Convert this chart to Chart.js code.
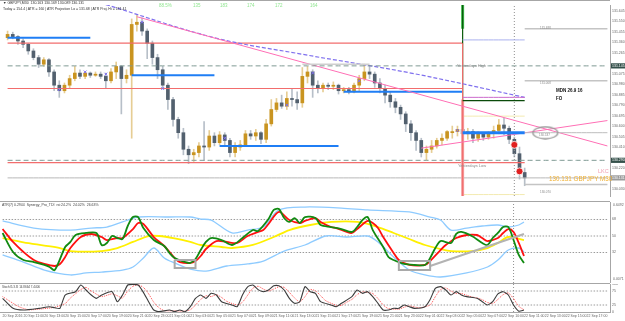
<!DOCTYPE html>
<html>
<head>
<meta charset="utf-8">
<title>GBPJPY M30</title>
<script src="https://cdn.jsdelivr.net/npm/chart.js@4.4.1/dist/chart.umd.min.js"></script>
<style>
  html, body { margin: 0; padding: 0; background: #fff; }
  #wrap { position: relative; width: 625px; height: 321px; overflow: hidden; background: #fff; }
  .pane { position: absolute; left: 0; width: 625px; }
  .sep { position: absolute; left: 0; width: 610px; height: 1px; background: #a6a6a6; }
  .t { position: absolute; white-space: nowrap; line-height: 1; transform-origin: 0 0; transform: scale(0.5);
       font-family: "Liberation Sans", Arial, sans-serif; color: #555; }
</style>
</head>
<body>
<div id="wrap">
  <div class="pane" style="top:0;height:201px"><canvas id="price"></canvas></div>
  <div class="pane" style="top:202px;height:81px"><canvas id="tdi"></canvas></div>
  <div class="pane" style="top:284px;height:37px"><canvas id="stoch"></canvas></div>
  <div class="sep" style="top:0"></div>
  <div class="sep" style="top:201px"></div>
  <div class="sep" style="top:283px"></div>

  <div class="t" style="left:3px;top:1px;font-size:7px;color:#333">&#9660; GBPJPY,M30&nbsp; 130.163 130.169 130.089 130.131</div>
  <div class="t" style="left:3px;top:7px;font-size:7px;color:#333">Today = 154.4 | ATR = 160 | ATR Projection Lo = 131.68 | ATR Proj. Hi = 131.41</div>

  <div class="t" style="left:159px;top:3px;font-size:9px;color:#8fe58f">88.5%</div>
  <div class="t" style="left:193px;top:3px;font-size:9px;color:#8fe58f">135</div>
  <div class="t" style="left:220px;top:3px;font-size:9px;color:#8fe58f">183</div>
  <div class="t" style="left:247px;top:3px;font-size:9px;color:#8fe58f">174</div>
  <div class="t" style="left:275px;top:3px;font-size:9px;color:#8fe58f">172</div>
  <div class="t" style="left:310px;top:3px;font-size:9px;color:#8fe58f">164</div>

  <div class="t" style="left:457px;top:64px;font-size:8px;color:#8a8a8a">Yesterdays High</div>
  <div class="t" style="left:458px;top:164px;font-size:8px;color:#8a8a8a">Yesterdays Low</div>
  <div class="t" style="left:556px;top:88px;font-size:9px;color:#111;font-weight:bold">MDN 26.9 16</div>
  <div class="t" style="left:556px;top:96px;font-size:9px;color:#111;font-weight:bold">FO</div>
  <div class="t" style="left:598px;top:168px;font-size:11px;color:#f2a2b4">LKC</div>
  <div class="t" style="left:549px;top:176px;font-size:12.6px;color:#f0b032">130.131 GBPJPY M30</div>
  <div class="t" style="left:540px;top:26px;font-size:6px;color:#888">131.488</div>
  <div class="t" style="left:540px;top:81px;font-size:6px;color:#888">131.008</div>
  <div class="t" style="left:540px;top:189.5px;font-size:6px;color:#888">130.070</div>
  <div class="t" style="left:539px;top:132.5px;font-size:6px;color:#888">130.537</div>

  <div class="t" style="left:2px;top:203px;font-size:7px;color:#444">ATR(7) 0.2944&nbsp; Synergy_Pro_TDI&nbsp; rsi:24.2%&nbsp; 24.02%&nbsp; 26.63%</div>
  <div class="t" style="left:613px;top:203px;font-size:7px;color:#666">0.6492</div>
  <div class="t" style="left:613px;top:277px;font-size:7px;color:#666">0.0071</div>
  <div class="t" style="left:2px;top:284.5px;font-size:6px;color:#444">Stoch(5,3,3) 14.8664 7.4406</div>
</div>

<script>
/* GBPJPY M30 — MT4 screenshot rebuilt with Chart.js */

Chart.defaults.font.family = "'Liberation Sans', Arial, sans-serif";

// ── categories (101 bars + empty shift area on the right) ──
const N = 117;
const labels = Array.from({ length: N }, (_, i) => String(i));

const timeTicks = ["20 Sep 2016", "20 Sep 11:00", "20 Sep 13:00", "20 Sep 15:00", "20 Sep 17:00",
  "20 Sep 19:00", "20 Sep 21:00", "20 Sep 23:00", "21 Sep 01:00", "21 Sep 03:00", "21 Sep 05:00",
  "21 Sep 07:00", "21 Sep 09:00", "21 Sep 11:00", "21 Sep 13:00", "21 Sep 15:00", "21 Sep 17:00",
  "21 Sep 19:00", "21 Sep 21:00", "21 Sep 23:00", "22 Sep 01:00", "22 Sep 03:00", "22 Sep 05:00",
  "22 Sep 07:00", "22 Sep 10:00", "22 Sep 11:00", "22 Sep 13:00", "22 Sep 15:00", "22 Sep 17:00"];
const CURSOR_TICK = 96;   // time label shown boxed
const CURSOR_BAR = 98;    // dotted crosshair

// ── candles ──
const opens = [131.40, 131.43, 131.41, 131.37, 131.34, 131.28, 131.22, 131.16, 131.20, 131.09,
  130.97, 130.92, 130.97, 131.03, 131.08, 131.05, 131.08, 131.06, 131.07, 131.05,
  131.01, 131.09, 131.14, 131.03, 131.06, 131.52, 131.54, 131.46, 131.35, 131.22,
  131.11, 130.97, 130.84, 130.66, 130.54, 130.39, 130.34, 130.36, 130.42, 130.41,
  130.51, 130.45, 130.52, 130.47, 130.36, 130.41, 130.43, 130.53, 130.51, 130.54,
  130.48, 130.62, 130.75, 130.81, 130.78, 130.85, 130.84, 130.81, 131.05, 131.09,
  130.97, 130.94, 130.97, 130.96, 130.97, 130.92, 130.93, 130.91, 130.97, 131.03,
  131.09, 131.07, 130.99, 130.94, 130.88, 130.82, 130.77, 130.71, 130.62, 130.54,
  130.47, 130.36, 130.39, 130.42, 130.47, 130.49, 130.54, 130.55, 130.57, 130.53,
  130.55, 130.49, 130.53, 130.50, 130.54, 130.56, 130.61, 130.58, 130.48, 130.35,
  130.18];
const highs = [131.46, 131.45, 131.42, 131.39, 131.35, 131.30, 131.24, 131.22, 131.21, 131.11,
  131.01, 130.99, 131.06, 131.14, 131.11, 131.09, 131.09, 131.09, 131.09, 131.08,
  131.12, 131.18, 131.15, 131.11, 131.57, 131.61, 131.58, 131.48, 131.37, 131.25,
  131.14, 130.99, 130.86, 130.68, 130.58, 130.42, 130.39, 130.45, 130.64, 130.56,
  130.54, 130.55, 130.54, 130.49, 130.45, 130.47, 130.56, 130.56, 130.57, 130.55,
  130.66, 130.84, 130.85, 130.88, 130.91, 130.94, 130.91, 131.13, 131.14, 131.11,
  131.01, 130.99, 130.99, 131.00, 130.98, 130.95, 130.95, 130.99, 131.06, 131.16,
  131.15, 131.09, 131.03, 130.97, 130.91, 130.85, 130.79, 130.73, 130.65, 130.56,
  130.49, 130.42, 130.47, 130.49, 130.53, 130.56, 130.60, 130.60, 130.59, 130.58,
  130.57, 130.55, 130.54, 130.55, 130.60, 130.66, 130.67, 130.60, 130.50, 130.41,
  130.22];
const lows = [131.38, 131.39, 131.34, 131.31, 131.25, 131.20, 131.13, 131.14, 131.05, 130.92,
  130.86, 130.90, 130.94, 131.01, 131.03, 131.03, 131.04, 131.05, 131.03, 130.94,
  130.99, 131.03, 130.71, 130.99, 130.49, 131.46, 131.42, 131.21, 131.16, 131.03,
  130.94, 130.75, 130.60, 130.49, 130.34, 130.26, 130.28, 130.32, 130.29, 130.38,
  130.42, 130.43, 130.43, 130.32, 130.32, 130.38, 130.42, 130.48, 130.47, 130.44,
  130.45, 130.60, 130.73, 130.76, 130.75, 130.78, 130.75, 130.77, 130.99, 130.86,
  130.90, 130.91, 130.93, 130.93, 130.89, 130.90, 130.89, 130.90, 130.92, 131.01,
  131.03, 130.95, 130.90, 130.81, 130.77, 130.72, 130.66, 130.55, 130.47, 130.38,
  130.32, 130.29, 130.36, 130.40, 130.43, 130.47, 130.49, 130.51, 130.49, 130.48,
  130.45, 130.46, 130.47, 130.48, 130.49, 130.53, 130.52, 130.44, 130.32, 130.12,
  130.06];
const closes = [131.43, 131.41, 131.37, 131.34, 131.28, 131.22, 131.16, 131.20, 131.09, 130.97,
  130.92, 130.97, 131.03, 131.08, 131.05, 131.08, 131.06, 131.07, 131.05, 131.01,
  131.09, 131.14, 131.03, 131.06, 131.52, 131.54, 131.46, 131.35, 131.22, 131.11,
  130.97, 130.84, 130.66, 130.54, 130.39, 130.34, 130.36, 130.42, 130.41, 130.51,
  130.45, 130.52, 130.47, 130.36, 130.41, 130.43, 130.53, 130.51, 130.54, 130.48,
  130.62, 130.75, 130.81, 130.78, 130.85, 130.84, 130.81, 131.05, 131.09, 130.97,
  130.94, 130.97, 130.96, 130.97, 130.92, 130.93, 130.91, 130.97, 131.03, 131.09,
  131.07, 130.99, 130.94, 130.88, 130.82, 130.77, 130.71, 130.62, 130.54, 130.47,
  130.36, 130.39, 130.42, 130.47, 130.49, 130.55, 130.55, 130.57, 130.53, 130.55,
  130.49, 130.53, 130.50, 130.54, 130.56, 130.61, 130.58, 130.48, 130.35, 130.18,
  130.131];

// ── price axis ──
const PRICE_MIN = 129.967, PRICE_MAX = 131.696;
const priceTicks = [131.645, 131.550, 131.455, 131.360, 131.265, 131.075, 130.980, 130.885,
  130.790, 130.695, 130.600, 130.505, 130.410, 130.220, 130.030];
const boxedDark = [131.145, 130.290];
const boxedGrey = [130.131];

// ── drawn levels on the price window ──
const redLevels = [131.35, 130.94, 130.27];
const redFrom = [0, 0, 0], redTo = [88, 88, 100];
const yesterdayHigh = 131.145, yesterdayLow = 130.29;
const blueLevels = [131.40, 131.06, 130.42, 130.91];
const blueFrom = [0, 24, 41, 65], blueTo = [16, 40, 64, 88];
const boxLevel = 130.54;
const lavenderLevel = 131.38, violetLevel = 130.86, darkGreenLevel = 130.83;
const paleLevels = [130.69, 129.98];
const bidPrice = 130.131;
const rightLevels = [131.48, 131.01, 130.07];
const greyTop = 131.16;

const trendABars = [25, 116], trendAVals = [131.59, 130.42];
const trendBBars = [80, 116], trendBVals = [130.40, 130.65];
const maBars = [19, 40, 57, 78, 100], maVals = [131.70, 131.40, 131.25, 131.08, 130.86];

const markerBars = [10, 15, 19, 26, 30, 42, 54, 59, 68, 87];
const markerVals = [130.93, 131.09, 131.07, 131.54, 130.94, 130.49, 130.79, 131.08, 131.01, 130.56];
const ballBars = [98, 99], ballVals = [130.43, 130.19];
const ringBar = 104, ringVal = 130.54;

// ── TDI window ──
const TDI_MIN = -1.25, TDI_MAX = 87.08;
const tdiTicks = [32, 50, 68];
const tdiGreenBars = [0, 2, 4, 6, 8, 9, 10, 12, 13, 14, 16, 18, 19, 20, 21, 22, 23, 24, 25, 26, 27, 29, 31, 32, 33, 35, 36, 37,
  38, 39, 40, 42, 44, 46, 48, 49, 51, 52, 53, 54, 55, 56, 57, 58, 60, 61, 63, 65, 67, 68, 69, 70, 71, 73, 74, 75,
  77, 79, 81, 82, 83, 84, 86, 87, 88, 90, 92, 93, 94, 95, 96, 97, 98, 99, 100];
const tdiGreen = [53.3, 32.6, 23.8, 21.6, 18.4, 16.2, 12.9, 38.0, 43.5, 51.1, 53.3, 53.3, 40.2, 42.4, 50.0, 47.8, 46.7,
  60.9, 70.7, 70.7, 58.7, 45.6, 39.1, 31.5, 26.0, 21.6, 20.6, 24.9, 34.7, 43.5, 47.8, 45.6, 40.2, 47.8, 56.5, 55.5,
  68.5, 78.4, 79.4, 69.6, 65.3, 69.6, 64.2, 70.7, 69.6, 62.0, 59.8, 57.6, 54.4, 59.8, 67.4, 70.7, 56.5, 38.0, 27.1,
  23.8, 19.5, 18.4, 18.4, 26.0, 36.9, 44.5, 42.4, 52.2, 54.4, 50.0, 42.4, 40.2, 47.8, 53.3, 59.8, 59.8, 45.6, 29.3, 20.6];
const tdiRedBars = [0, 2, 4, 6, 8, 10, 11, 12, 13, 15, 17, 19, 20, 22, 23, 25, 26, 27, 29, 31, 33, 34, 36, 37, 38, 39, 41, 43,
  45, 47, 49, 50, 51, 53, 55, 57, 58, 60, 61, 63, 64, 66, 67, 68, 70, 71, 72, 73, 75, 76, 78, 81, 82, 84, 85, 87,
  89, 91, 92, 93, 95, 96, 97, 98, 99, 100];
const tdiRed = [57.6, 43.5, 32.6, 23.8, 19.5, 17.3, 19.5, 27.1, 36.9, 48.9, 52.2, 48.9, 45.6, 47.8, 47.8, 57.6, 64.2,
  63.1, 48.9, 39.1, 26.0, 21.6, 20.6, 22.7, 28.2, 35.8, 44.5, 43.5, 42.4, 50.0, 54.4, 56.5, 63.1, 76.2, 67.4, 64.2,
  66.4, 69.6, 65.3, 59.8, 58.7, 54.4, 53.3, 57.6, 66.4, 64.2, 58.7, 48.9, 31.5, 23.8, 18.4, 18.4, 22.7, 34.7, 40.2,
  47.8, 51.1, 51.1, 47.8, 44.5, 47.8, 53.3, 57.6, 54.4, 42.4, 28.2];
const tdiBaseBars = [0, 4, 8, 11, 13, 19, 22, 25, 28, 30, 33, 36, 38, 42, 44, 48, 52, 55, 59, 63, 68, 72, 75, 78, 81, 84,
  86, 90, 93, 95, 97, 100];
const tdiBase = [47.8, 43.0, 39.6, 36.9, 33.6, 33.6, 36.9, 43.5, 50.0, 50.0, 47.3, 43.5, 40.2, 38.0, 36.9, 40.2, 48.9,
  56.5, 62.0, 65.3, 65.3, 59.8, 53.3, 46.7, 40.2, 35.8, 33.6, 33.6, 36.9, 42.4, 48.9, 45.6];
const tdiUpBars = [0, 6, 13, 17, 20, 23, 26, 32, 36, 38, 40, 44, 47, 50, 53, 58, 65, 70, 78, 82, 84, 86, 89, 92, 95, 97, 99, 100];
const tdiUp = [66.4, 58.7, 56.5, 58.7, 59.8, 65.3, 70.7, 70.7, 70.7, 68.5, 67.4, 53.3, 56.5, 59.8, 78.4, 81.6, 80.5,
  78.4, 76.2, 70.7, 67.4, 56.5, 58.7, 60.9, 62.0, 59.8, 62.0, 65.3];
const tdiLoBars = [0, 4, 8, 13, 16, 19, 23, 25, 27, 29, 31, 33, 36, 39, 43, 47, 50, 54, 58, 62, 66, 70, 72, 75, 78, 81,
  84, 89, 93, 95, 97, 99, 100];
const tdiLo = [29.3, 21.6, 12.9, 7.5, 9.7, 10.7, 12.9, 16.2, 26.0, 36.9, 26.0, 20.6, 14.0, 11.8, 17.3, 19.5, 22.7,
  33.6, 40.2, 50.0, 48.9, 50.0, 43.5, 27.1, 12.9, 7.5, 5.3, 9.7, 16.2, 23.8, 34.7, 36.9, 32.6];
const boxA = { from: 33, to: 37, top: 23.8, bottom: 15.1 };
const boxB = { from: 76, to: 82, top: 22.7, bottom: 12.9 };
const tdiTrendBars = [82, 100], tdiTrendVals = [17.3, 52.2];

// ── Stochastic window ──
const stochTicks = [0, 25, 75, 100];
const stochBars = [0, 2, 4, 7, 9, 10, 11, 12, 14, 15, 16, 17, 18, 19, 21, 22, 23, 24, 25, 26, 27, 28, 29, 30, 32, 33, 34,
  35, 36, 37, 38, 39, 40, 41, 42, 44, 45, 46, 47, 48, 49, 50, 51, 52, 53, 54, 55, 56, 57, 58, 59, 60, 61, 63, 64,
  65, 67, 68, 69, 70, 71, 72, 73, 74, 75, 76, 77, 78, 79, 81, 82, 83, 84, 85, 86, 87, 88, 89, 91, 92, 93, 94, 95,
  96, 97, 98, 99, 100];
const stochMain = [48.8, 13.1, 7.1, 13.1, 19.0, 15.0, 13.1, 60.7, 72.6, 96.4, 78.6, 60.7, 48.8, 60.7, 72.6, 36.9,
  60.7, 96.4, 98.8, 96.4, 70.0, 36.9, 7.1, 1.2, 7.1, 1.2, 7.1, 1.2, 19.0, 48.8, 60.7, 48.8, 66.7, 60.7, 36.9, 25.0,
  19.0, 60.7, 90.0, 96.4, 80.0, 72.6, 78.6, 94.0, 94.0, 78.6, 48.8, 31.0, 36.9, 90.5, 72.6, 66.7, 36.9, 25.0, 19.0,
  31.0, 54.8, 78.6, 66.7, 72.6, 54.8, 31.0, 7.1, 7.1, 13.1, 13.1, 25.0, 19.0, 13.1, 19.0, 45.0, 84.5, 90.5, 78.6,
  60.7, 72.6, 60.7, 54.8, 48.8, 36.9, 25.0, 36.9, 65.0, 72.6, 60.7, 25.0, 3.0, 7.1];
const sigBars = [0, 3, 5, 8, 10, 12, 13, 15, 16, 17, 19, 21, 22, 23, 24, 25, 26, 27, 28, 29, 30, 31, 33, 35, 36, 37, 38,
  39, 40, 41, 42, 43, 45, 46, 47, 48, 49, 50, 51, 52, 53, 54, 55, 56, 57, 58, 59, 60, 61, 62, 64, 65, 66, 67, 68,
  69, 70, 71, 72, 73, 74, 76, 77, 78, 79, 80, 82, 83, 84, 85, 86, 87, 88, 89, 90, 91, 92, 93, 94, 95, 96, 97, 98,
  99, 100];
const stochSignal = [55, 20, 8, 12, 17, 30, 50, 80, 88, 75, 55, 65, 58, 50, 75, 92, 97, 88, 65, 35, 15, 5, 4, 3, 8, 25,
  45, 58, 55, 62, 52, 38, 25, 35, 60, 85, 92, 82, 75, 82, 90, 88, 70, 50, 36, 55, 80, 76, 58, 40, 24, 24, 35, 45, 62,
  72, 70, 66, 48, 25, 12, 10, 17, 22, 18, 15, 25, 55, 80, 86, 75, 66, 66, 60, 54, 50, 44, 34, 30, 45, 62, 68, 48, 20, 8];

// ── helpers ──────────────────────────────────────────────

function seg(v, a, b) {
  const d = new Array(N).fill(null);
  for (let i = a; i <= b; i++) d[i] = v;
  return d;
}
function pts(bars, vals) {
  const d = new Array(N).fill(null);
  bars.forEach((b, k) => { d[b] = vals[k]; });
  return d;
}
function vline(bar, lo, hi) {
  return [{ x: String(bar), y: lo }, { x: String(bar), y: hi }];
}
function rect(b) {
  return [{ x: String(b.from), y: b.top }, { x: String(b.to), y: b.top }, { x: String(b.to), y: b.bottom },
    { x: String(b.from), y: b.bottom }, { x: String(b.from), y: b.top }];
}
function line(data, color, width, extra) {
  return Object.assign({
    type: "line", data, borderColor: color, borderWidth: width, pointRadius: 0,
    fill: false, tension: 0, spanGaps: false, order: 5,
  }, extra || {});
}
function rightAxis(min, max, tickValues, ticksExtra) {
  return {
    position: "right", min, max,
    grid: { display: false, drawTicks: false },
    border: { display: true, color: "#a6a6a6" },
    afterBuildTicks: (s) => { s.ticks = tickValues.slice().sort((a, b) => a - b).map((v) => ({ value: v })); },
    afterFit: (s) => { s.width = 15; s.paddingTop = 0; s.paddingBottom = 0; },
    ticks: Object.assign({ padding: 2, autoSkip: false, font: { size: 3.5 }, color: "#666" }, ticksExtra || {}),
  };
}
const baseOptions = {
  animation: false, responsive: true, maintainAspectRatio: false, events: [],
  layout: { padding: 0 },
  plugins: { legend: { display: false }, tooltip: { enabled: false } },
};
const hiddenX = { type: "category", offset: true, display: false };
const isBoxed = (v) => boxedDark.includes(v) || boxedGrey.includes(v);

// ── Price window ─────────────────────────────────────────

const ring = document.createElement("canvas");
ring.width = 28; ring.height = 14;
const rc = ring.getContext("2d");
rc.strokeStyle = "#9a9a9a"; rc.lineWidth = 1.3;
rc.beginPath(); rc.ellipse(14, 7, 12.5, 6, 0, 0, Math.PI * 2); rc.stroke();

const bull = closes.map((c, i) => c >= opens[i]);

const priceSets = [
  { type: "bar", data: lows.map((l, i) => [l, highs[i]]), backgroundColor: bull.map((b) => b ? "#e6cd94" : "#b7bfc8"),
    barThickness: 1, grouped: false, order: 20 },
  { type: "bar", data: opens.map((o, i) => [o, closes[i]]), backgroundColor: bull.map((b) => b ? "#c99420" : "#52606e"),
    barThickness: 3, minBarLength: 1, grouped: false, order: 19 },
  line(seg(yesterdayHigh, 0, N - 1), "#7f9a94", 1, { borderDash: [5, 3] }),
  line(seg(yesterdayLow, 0, N - 1), "#7f9a94", 1, { borderDash: [5, 3] }),
  line(seg(bidPrice, 0, N - 1), "#b8b8b8", 1, { order: 8 }),
  line(seg(greyTop, 57, 70), "#cfcfcf", 1.5),
  line(seg(lavenderLevel, 88, 100), "#a9b0ee", 1),
  line(seg(violetLevel, 88, 100), "#cc6acc", 1),
  line(seg(darkGreenLevel, 88, 100), "#0a4a0a", 1.2),
  line(seg(boxLevel, 88, 100), "#1f7ef5", 3),
  line(seg(boxLevel, 100, N - 1), "#bdbdbd", 1),
  line(pts(trendABars, trendAVals), "#ff6fb5", 1, { spanGaps: true }),
  line(pts(trendBBars, trendBVals), "#ff6fb5", 1, { spanGaps: true }),
  line(pts(maBars, maVals), "#7f70ee", 1.2, { spanGaps: true, tension: 0.35, borderDash: [4, 2] }),
  line(vline(88, PRICE_MIN, 131.35), "#f26d6d", 1.2),
  line(vline(88, PRICE_MIN, 130.84), "#f4a0a0", 3),
  line(vline(88, 130.83, PRICE_MAX), "#0a5a0a", 1.2),
  line(vline(88, 131.48, PRICE_MAX), "#3cba4b", 3),
  line(vline(CURSOR_BAR, PRICE_MIN, PRICE_MAX), "#909090", 1, { borderDash: [1, 2], order: 9 }),
  line(pts(markerBars, markerVals), "#7f70ee", 1, { showLine: false, pointStyle: "crossRot", pointRadius: 2, order: 1 }),
  line(pts(ballBars, ballVals), "#7a0000", 0.8, { showLine: false, pointStyle: "circle", pointRadius: 3.5,
    pointBackgroundColor: "#e02020", pointBorderColor: "#fff", pointBorderWidth: 0.8, order: 0 }),
  line(pts([ringBar], [ringVal]), "#9a9a9a", 1, { showLine: false, pointStyle: ring, pointRadius: 3, order: 0 }),
];
redLevels.forEach((v, k) => priceSets.push(line(seg(v, redFrom[k], redTo[k]), "#f26d6d", 1.2)));
blueLevels.forEach((v, k) => priceSets.push(line(seg(v, blueFrom[k], blueTo[k]), "#1f7ef5", 2)));
paleLevels.forEach((v) => priceSets.push(line(seg(v, 88, 100), "#f3eab0", 1)));
rightLevels.forEach((v) => priceSets.push(line(seg(v, 100, N - 1), "#c4c4c4", 1.5)));

new Chart(document.getElementById("price"), {
  type: "bar",
  data: { labels, datasets: priceSets },
  options: Object.assign({}, baseOptions, {
    scales: {
      x: hiddenX,
      y: rightAxis(PRICE_MIN, PRICE_MAX, priceTicks.concat(boxedDark, boxedGrey), {
        callback: (v) => Number(v).toFixed(3),
        color: (c) => (c.tick && isBoxed(c.tick.value)) ? "#fff" : "#666",
        showLabelBackdrop: (c) => !!(c.tick && isBoxed(c.tick.value)),
        backdropColor: (c) => (c.tick && boxedGrey.includes(c.tick.value)) ? "#9b9b9b" : "#34504a",
        backdropPadding: { x: 1, y: 0.5 },
      }),
    },
  }),
});

// ── TDI window ───────────────────────────────────────────

new Chart(document.getElementById("tdi"), {
  type: "line",
  data: {
    labels,
    datasets: [
      line(seg(68, 0, N - 1), "#9a9a9a", 1, { borderDash: [1.5, 1.5], order: 9 }),
      line(seg(50, 0, N - 1), "#9a9a9a", 1, { borderDash: [1.5, 1.5], order: 9 }),
      line(seg(32, 0, N - 1), "#9a9a9a", 1, { borderDash: [1.5, 1.5], order: 9 }),
      line(pts(tdiUpBars, tdiUp), "#8ecbff", 1.3, { spanGaps: true, tension: 0.3 }),
      line(pts(tdiLoBars, tdiLo), "#8ecbff", 1.3, { spanGaps: true, tension: 0.3 }),
      line(pts(tdiBaseBars, tdiBase), "#fff000", 1.8, { spanGaps: true, tension: 0.3, order: 4 }),
      line(pts(tdiRedBars, tdiRed), "#ff1010", 1.8, { spanGaps: true, tension: 0.3, order: 3 }),
      line(pts(tdiGreenBars, tdiGreen), "#118a11", 1.8, { spanGaps: true, tension: 0.3, order: 2 }),
      line(rect(boxA), "#a9a9a9", 2, { order: 1 }),
      line(rect(boxB), "#a9a9a9", 2, { order: 1 }),
      line(pts(tdiTrendBars, tdiTrendVals), "#b3b3b3", 2, { spanGaps: true, order: 1 }),
      line(vline(CURSOR_BAR, TDI_MIN, TDI_MAX), "#909090", 1, { borderDash: [1, 2], order: 9 }),
    ],
  },
  options: Object.assign({}, baseOptions, {
    scales: { x: hiddenX, y: rightAxis(TDI_MIN, TDI_MAX, tdiTicks, { callback: (v) => String(v) }) },
  }),
});

// ── Stochastic window + time axis ────────────────────────

new Chart(document.getElementById("stoch"), {
  type: "line",
  data: {
    labels,
    datasets: [
      line(seg(75, 0, N - 1), "#9a9a9a", 1, { borderDash: [1.5, 1.5], order: 9 }),
      line(seg(25, 0, N - 1), "#9a9a9a", 1, { borderDash: [1.5, 1.5], order: 9 }),
      line(pts(sigBars, stochSignal), "#ff5050", 1, { spanGaps: true, tension: 0.2, borderDash: [1, 1], order: 3 }),
      line(pts(stochBars, stochMain), "#3c3c3c", 1.1, { spanGaps: true, tension: 0.2, order: 2 }),
      line(vline(CURSOR_BAR, 0, 100), "#909090", 1, { borderDash: [1, 2], order: 9 }),
    ],
  },
  options: Object.assign({}, baseOptions, {
    scales: {
      x: {
        type: "category", offset: true, position: "bottom",
        grid: { display: false, drawTicks: false },
        border: { display: true, color: "#a6a6a6" },
        afterFit: (s) => { s.height = 9; s.paddingLeft = 0; s.paddingRight = 0; },
        ticks: {
          autoSkip: false, maxRotation: 0, minRotation: 0, align: "start", padding: 2,
          font: { size: 3.5 },
          color: (c) => c.index === CURSOR_TICK ? "#fff" : "#666",
          showLabelBackdrop: (c) => c.index === CURSOR_TICK,
          backdropColor: "#3d474d",
          backdropPadding: { x: 1.5, y: 0.5 },
          callback: (v, i) => (i % 4 === 0 && timeTicks[i / 4]) ? timeTicks[i / 4] : null,
        },
      },
      y: rightAxis(0, 100, stochTicks, { callback: (v) => String(v) }),
    },
  }),
});
</script>
</body>
</html>
